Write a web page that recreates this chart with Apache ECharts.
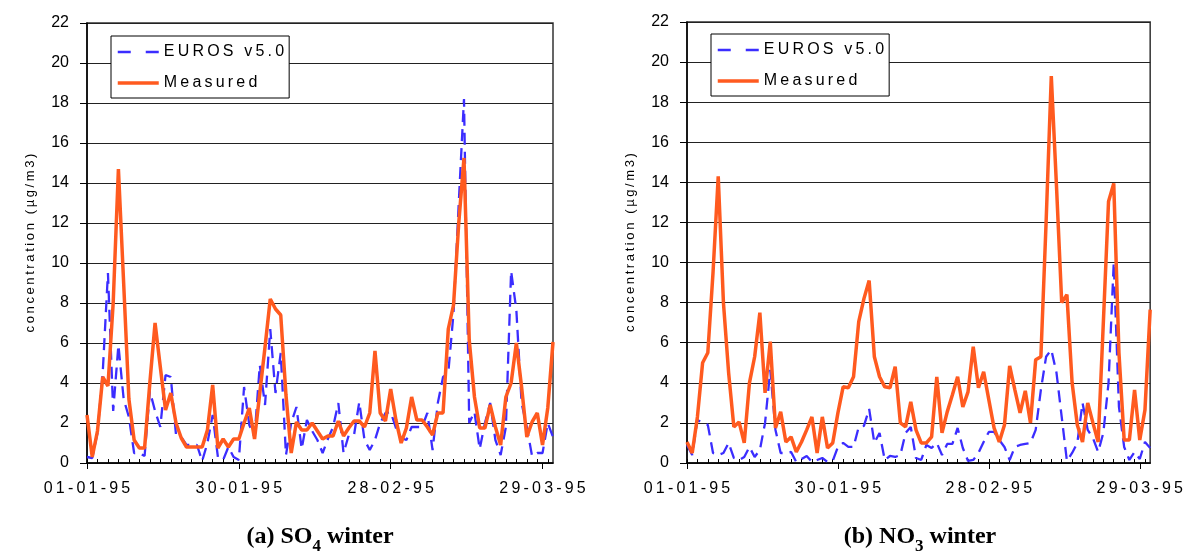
<!DOCTYPE html>
<html><head><meta charset="utf-8">
<script src="https://cdn.jsdelivr.net/npm/echarts@6/dist/echarts.min.js"></script>
<style>html,body{margin:0;padding:0;background:#fff}#c{width:1186px;height:552px}</style>
</head><body><div id="c"></div>
<script>
// ---- data ----
const monthSpec = [['01', 31], ['02', 28], ['03', 31]];
const dates = [];
monthSpec.forEach(([m, n]) => { for (let d = 1; d <= n; d++) dates.push((d < 10 ? '0' : '') + d + '-' + m + '-95'); });
const tickLabels = ['01-01-95', '30-01-95', '28-02-95', '29-03-95'];
const yTicks = [0, 2, 4, 6, 8, 10, 12, 14, 16, 18, 20, 22];
const seriesNames = ['EUROS v5.0', 'Measured'];
const panelTitles = ['(a) SO{s|4} winter', '(b) NO{s|3} winter'];
const yName = 'concentration (µg/m3)';

const so4Euros = [0.3,0.25,1.5,4.5,9.5,2.6,5.9,3.2,2.3,0.5,
  0.5,0.35,3.6,2.6,1.8,4.4,4.3,1.4,1.3,0.9,
  0.9,0.9,0.1,1.0,2.4,0.3,0.15,0.8,0.3,0.15,
  3.8,1.9,1.3,4.9,2.9,6.7,3.5,5.5,0.4,2.0,
  2.8,0.7,2.15,1.6,1.15,0.5,1.2,1.8,3.0,0.5,
  1.4,1.4,3.05,1.15,0.65,1.15,2.0,2.5,2.55,1.75,
  1.25,1.15,1.8,1.8,1.8,2.5,0.65,3.0,4.3,4.5,
  7.5,13,18.2,2.0,2.55,0.7,2.0,3.0,1.15,0.4,
  1.8,9.6,7.65,3.0,1.8,0.35,0.5,0.5,2.0,1.3];
const so4Measured = [2.4,0.3,1.6,4.3,3.85,8,14.7,9,3.2,1.15,
  0.75,0.75,4,7.0,4.8,2.65,3.5,2.0,1.25,0.8,
  0.8,0.8,0.8,1.65,3.9,0.75,1.2,0.8,1.2,1.2,
  2.0,2.75,1.2,3.5,5.8,8.2,7.7,7.4,3.4,0.5,
  2.05,1.65,1.65,2.0,1.6,1.2,1.35,1.35,2.1,1.35,
  1.75,2.1,2.1,1.8,2.5,5.6,2.5,2.1,3.7,2.15,
  1.0,1.75,3.3,2.15,2.15,1.8,1.4,2.5,2.5,6.7,
  7.9,12,15.25,6.15,3.3,1.75,1.75,2.9,1.8,0.9,
  3.3,4.0,6.0,3.8,1.3,2.05,2.5,0.9,2.75,6.05];
const no3Euros = [0.9,0.4,2.15,2.0,1.9,0.5,0.4,0.5,1.0,0.25,
  0.15,0.3,0.8,0.3,0.65,2.0,4.65,1.65,0.5,0.5,
  0.55,0.05,0.2,0.35,0.05,0.15,0.25,0.05,0.1,0.8,
  1.0,0.8,0.8,1.8,1.85,2.7,1.0,1.5,0.15,0.35,
  0.3,0.4,1.5,1.8,0.25,0.15,0.9,0.75,1.0,0.4,
  0.95,0.95,1.75,0.75,0.1,0.15,0.5,1.05,1.55,1.55,
  1.15,0.8,0.15,0.8,0.9,0.95,1.0,1.65,3.65,5.3,
  5.65,4.5,2.3,0.1,0.5,1.0,3.0,1.65,1.25,0.55,
  1.5,4.0,10.0,2.8,0.8,0.15,0.55,0.2,1.05,0.75];
const no3Measured = [1.05,0.5,2.3,5.0,5.5,9.5,14.3,8.0,4.5,1.8,
  2.05,1.0,4.0,5.3,7.5,3.5,6.05,1.75,2.55,1.05,
  1.3,0.55,1.05,1.65,2.3,0.5,2.3,0.75,1.0,2.5,
  3.8,3.75,4.3,7.05,8.2,9.1,5.3,4.3,3.8,3.75,
  4.8,2.0,1.8,3.05,1.65,1.0,1.0,1.3,4.3,1.5,
  2.55,3.4,4.3,2.8,3.55,5.8,3.75,4.55,3.15,1.75,
  1.05,1.9,4.85,3.65,2.5,3.6,2.0,5.15,5.3,12,
  19.3,13.8,8.0,8.4,4.0,1.9,1.05,3.0,2.0,1.05,
  7,13.05,13.95,5.5,1.15,1.15,3.65,1.15,2.65,7.65];

// ---- styling ----
const SANS = '"Liberation Sans", Arial, sans-serif';
const SERIF = '"Liberation Serif", "Times New Roman", serif';
const BLUE = '#3b2dff';
const ORANGE = '#ff5a1f';
const sp = s => s.split('').join('\u2009');

const grids = [
  { left: 87, right: 633, top: 23, bottom: 89, show: true, borderColor: '#333', borderWidth: 1.5 },
  { left: 687, right: 33, top: 22, bottom: 89, show: true, borderColor: '#333', borderWidth: 1.5 }
];
const xAxes = [], yAxes = [], series = [], legends = [], graphics = [];
const panelData = [[so4Euros, so4Measured], [no3Euros, no3Measured]];
const legendPos = [[111, 36], [711, 34]];
const titleX = [320, 920];

grids.forEach((g, gi) => {
  xAxes.push({
    gridIndex: gi, type: 'category', data: dates, boundaryGap: false,
    axisLine: { lineStyle: { color: '#000', width: 1.5 } },
    axisTick: { interval: 28, length: 6, lineStyle: { color: '#000', width: 1 } },
    axisLabel: { interval: 28, margin: 18, fontSize: 16, color: '#000', fontFamily: SANS,
      formatter: v => tickLabels.includes(v) ? sp(v) : '' },
    splitLine: { show: false }
  });
  xAxes.push({
    gridIndex: gi, type: 'category', data: dates, boundaryGap: false, position: 'bottom',
    axisLine: { show: false },
    axisTick: { interval: 1, inside: true, length: 4, lineStyle: { color: '#000', width: 1 } },
    axisLabel: { show: false }, splitLine: { show: false }
  });
  yAxes.push({
    gridIndex: gi, type: 'value', min: yTicks[0], max: yTicks[yTicks.length - 1], interval: 2,
    axisLine: { show: true, lineStyle: { color: '#000', width: 1.5 } },
    axisTick: { show: true, length: 7, lineStyle: { color: '#000' } },
    axisLabel: { fontSize: 16, color: '#000', margin: 18, fontFamily: SANS },
    splitLine: { lineStyle: { color: '#222', width: 1 } },
    name: sp(yName), nameLocation: 'middle', nameGap: 50,
    nameTextStyle: { fontSize: 13, color: '#000', fontFamily: SANS }
  });
  const [eu, me] = panelData[gi];
  series.push({
    name: seriesNames[0], type: 'line', xAxisIndex: gi * 2, yAxisIndex: gi, data: eu,
    symbol: 'none', showSymbol: false, animation: false,
    lineStyle: { color: BLUE, width: 2.3, type: [12, 7] }, itemStyle: { color: BLUE }
  });
  series.push({
    name: seriesNames[1], type: 'line', xAxisIndex: gi * 2, yAxisIndex: gi, data: me,
    symbol: 'none', showSymbol: false, animation: false,
    lineStyle: { color: ORANGE, width: 3.5 }, itemStyle: { color: ORANGE }
  });
  legends.push({
    left: legendPos[gi][0], top: legendPos[gi][1], orient: 'vertical',
    data: [
      { name: seriesNames[0], lineStyle: { type: [13, 15], width: 2.5 }, itemStyle: { opacity: 0 } },
      { name: seriesNames[1], lineStyle: { width: 3.5 }, itemStyle: { opacity: 0 } }
    ],
    itemStyle: { opacity: 0 },
    itemWidth: 41, itemHeight: 14, itemGap: 15,
    padding: [8, 5, 7, 5], borderColor: '#000', borderWidth: 1, backgroundColor: '#fff',
    formatter: n => sp(n),
    textStyle: { fontSize: 16, color: '#000', fontFamily: SANS }, selectedMode: false
  });
  graphics.push({
    type: 'text', x: titleX[gi], y: 537,
    style: {
      text: panelTitles[gi], fontSize: 24, fontWeight: 'bold', fontFamily: SERIF, fill: '#000',
      align: 'center', verticalAlign: 'middle',
      rich: { s: { fontSize: 17, fontWeight: 'bold', fontFamily: SERIF, verticalAlign: 'bottom', lineHeight: 36 } }
    }
  });
});

const chart = echarts.init(document.getElementById('c'), null, { renderer: 'canvas' });
chart.setOption({
  animation: false, backgroundColor: '#fff',
  grid: grids, xAxis: xAxes, yAxis: yAxes, series: series, legend: legends, graphic: graphics
});
</script></body></html>
